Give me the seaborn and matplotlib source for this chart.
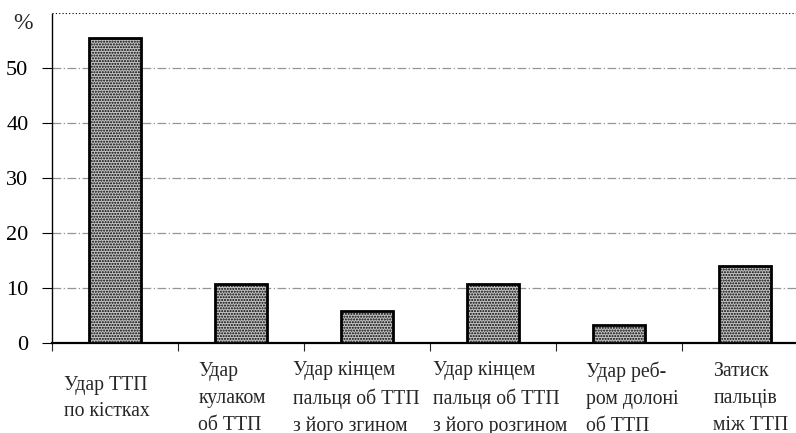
import matplotlib
matplotlib.use('Agg')
import matplotlib.pyplot as plt
import matplotlib.transforms as mtransforms
import seaborn as sns
import numpy as np
import pandas as pd

categories = [
    'Удар ТТП\nпо кістках',
    'Удар\nкулаком\nоб ТТП',
    'Удар кінцем\nпальця об ТТП\nз його згином',
    'Удар кінцем\nпальця об ТТП\nз його розгином',
    'Удар реб-\nром долоні\nоб ТТП',
    'Затиск\nпальців\nміж ТТП',
]
values = [55.4, 10.8, 5.8, 10.8, 3.3, 14.0]
yticks = [0, 10, 20, 30, 40, 50]

df = pd.DataFrame({'cat': categories, 'val': values})

sns.set_style("white")
plt.rcParams['font.family'] = ['Liberation Serif', 'DejaVu Serif']
plt.rcParams['hatch.linewidth'] = 1.0

fig = plt.figure(figsize=(7.96, 4.33), dpi=100)
# axes runs a bit past the right edge, as in the cropped original
ax = fig.add_axes([52 / 796, 1 - 343 / 433, 756 / 796, 330 / 433])

sns.barplot(data=df, x='cat', y='val', ax=ax, width=0.405, color='#c4c4c4',
            edgecolor='black', linewidth=2, saturation=1, zorder=3)
for p in ax.patches:
    p.set_hatch('......')

ax.set_xlim(-0.5, len(categories) - 0.5)
ax.set_ylim(0, 60)

# gridlines
for y in yticks[1:]:
    ax.axhline(y, color='#959595', linewidth=0.9, linestyle=(0, (7, 2, 1, 2)), zorder=1)
ax.axhline(60, color='black', linewidth=0.8, linestyle=(0, (1, 2)), zorder=1)

# spines
for s in ['top', 'right']:
    ax.spines[s].set_visible(False)
ax.spines['left'].set_linestyle((0, (1, 1)))
ax.spines['left'].set_linewidth(1.0)
ax.spines['left'].set_color('black')
ax.spines['bottom'].set_linewidth(1.6)
ax.spines['bottom'].set_color('black')

# y ticks
ax.set_yticks(yticks)
ax.set_yticklabels([str(t) for t in yticks], fontsize=16)
ax.tick_params(axis='y', which='major', length=7, width=0.8, direction='out', left=True, pad=10, colors='black')

# x ticks: labels at centers, marks at category boundaries
ax.set_xticks(range(len(categories)))
ax.set_xticklabels(categories, fontsize=14.2, multialignment='left', linespacing=1.55)
ax.set_xticks(np.arange(-0.5, len(categories), 1), minor=True)
ax.tick_params(axis='x', which='major', length=0, pad=40)
ax.tick_params(axis='x', which='minor', length=6, width=0.8, direction='out', bottom=True)

# small horizontal shifts of the wrapped labels (pixels), like the original
label_shift = [-8, -9, -11, 7, 13, 6]
for lbl, dx in zip(ax.get_xticklabels(), label_shift):
    lbl.set_va('center')
    lbl.set_transform(lbl.get_transform() + mtransforms.ScaledTranslation(dx / 100, 0, fig.dpi_scale_trans))

ax.set_xlabel('')
ax.set_ylabel('')
ax.text(-0.026, 1.0, '%', transform=ax.transAxes, ha='right', va='top', fontsize=17)

fig.savefig('out.png', dpi=100)
plt.close()
